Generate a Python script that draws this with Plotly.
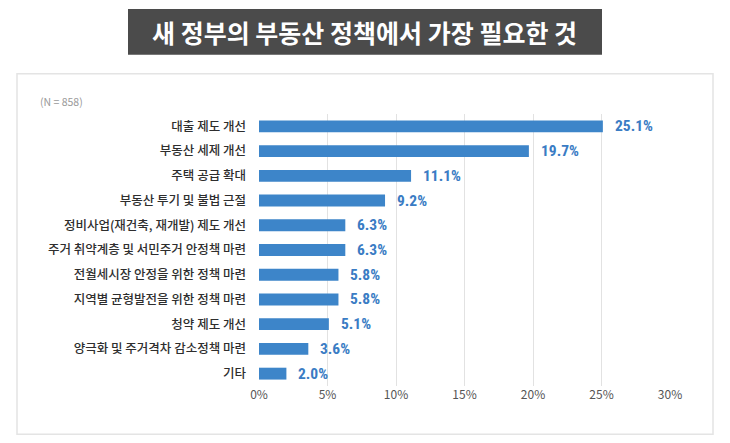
import plotly.graph_objects as go

# survey data (N = 858)
categories = [
    "대출 제도 개선",
    "부동산 세제 개선",
    "주택 공급 확대",
    "부동산 투기 및 불법 근절",
    "정비사업(재건축, 재개발) 제도 개선",
    "주거 취약계층 및 서민주거 안정책 마련",
    "전월세시장 안정을 위한 정책 마련",
    "지역별 균형발전을 위한 정책 마련",
    "청약 제도 개선",
    "양극화 및 주거격차 감소정책 마련",
    "기타",
]
values = [25.1, 19.7, 11.1, 9.2, 6.3, 6.3, 5.8, 5.8, 5.1, 3.6, 2.0]
tick_vals = [0, 5, 10, 15, 20, 25, 30]
tick_text = ["0%", "5%", "10%", "15%", "20%", "25%", "30%"]

# page body has an 8px margin, so the figure is drawn 8px smaller and offset
OFF = 8
W, H = 730 - OFF, 443 - OFF
L, R, T, B = 259 - OFF, 60, 113.5 - OFF, 56.5
pw, ph = W - L - R, H - T - B


def px(x):
    return (x - OFF - L) / pw


def py(y):
    return 1 - (y - OFF - T) / ph


fig = go.Figure()

fig.add_trace(
    go.Bar(
        x=values,
        y=categories,
        orientation="h",
        width=0.48,
        marker=dict(color="#3d85c9", line=dict(width=0)),
        hoverinfo="x+y",
    )
)

# value labels
for c, v in zip(categories, values):
    fig.add_annotation(
        x=v, y=c, xref="x", yref="y",
        text=f"<b>{v:.1f}%</b>",
        showarrow=False, xanchor="left", xshift=10,
        font=dict(family="Roboto Condensed, Liberation Sans Narrow, Roboto", size=15.5, color="#3a7cc4"),
    )

# title banner
fig.add_shape(type="rect", xref="paper", yref="paper",
              x0=px(128), x1=px(602), y0=py(54), y1=py(8),
              fillcolor="#4b4b4b", line=dict(width=0), layer="below")
fig.add_annotation(
    xref="paper", yref="paper", x=px(364), y=py(31),
    text="<b>새 정부의 부동산 정책에서 가장 필요한 것</b>",
    showarrow=False, xanchor="center", yanchor="middle",
    font=dict(family="Noto Sans CJK KR", size=25, color="white"),
)

# card frame
fig.add_shape(type="rect", xref="paper", yref="paper",
              x0=px(17), x1=px(713), y0=py(435), y1=py(73),
              fillcolor="rgba(0,0,0,0)", line=dict(color="#e4e4e4", width=1.5), layer="below")

fig.add_annotation(
    xref="paper", yref="paper", x=px(38), y=py(101),
    text="(N = 858)", showarrow=False, xanchor="left", yanchor="middle",
    font=dict(family="Noto Sans CJK KR", size=10.5, color="#9a9a9a"),
)

fig.update_layout(
    width=W, height=H,
    margin=dict(l=L, r=R, t=T, b=B),
    paper_bgcolor="white", plot_bgcolor="white",
    showlegend=False,
    font=dict(family="Noto Sans CJK KR", color="#333333"),
)
fig.update_xaxes(
    range=[0, 30], tickvals=tick_vals, ticktext=tick_text,
    showgrid=True, gridcolor="#e2e2e2", gridwidth=1,
    zeroline=False, showline=False,
    tickfont=dict(family="Noto Sans CJK KR", size=12, color="#555555"),
)
fig.update_yaxes(
    autorange="reversed", showgrid=False, showline=False,
    ticklabelstandoff=12,
    tickfont=dict(family="Noto Sans CJK KR", size=12.5, color="#2e2e2e", weight=500),
)

fig.write_html("out.html")
